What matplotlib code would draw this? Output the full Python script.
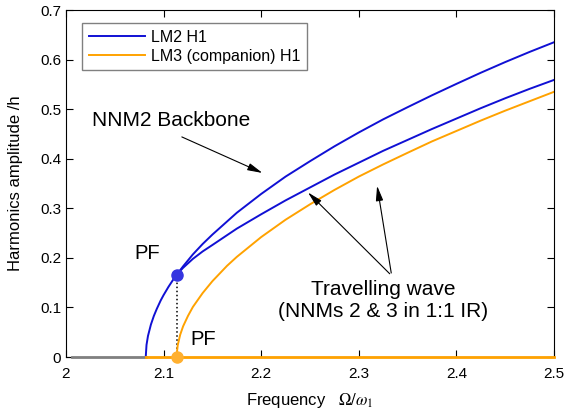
import matplotlib
matplotlib.use('Agg')
import matplotlib.pyplot as plt

plt.rcParams['font.family'] = ['Liberation Sans', 'DejaVu Sans']
plt.rcParams['mathtext.fontset'] = 'stix'

# values
x_upper = [2.0817, 2.0825, 2.084, 2.087, 2.09, 2.093, 2.097, 2.1, 2.105, 2.11, 2.1134,
           2.12, 2.13, 2.14, 2.15, 2.175, 2.2, 2.225, 2.25, 2.275, 2.3, 2.325, 2.35,
           2.375, 2.4, 2.425, 2.45, 2.475, 2.5]
y_upper = [0.0, 0.0245, 0.0425, 0.0655, 0.0828, 0.097, 0.114, 0.125, 0.1416, 0.1566, 0.166,
           0.183, 0.207, 0.228, 0.247, 0.291, 0.329, 0.364, 0.395, 0.425, 0.453, 0.4795, 0.504,
           0.528, 0.551, 0.5735, 0.595, 0.6155, 0.635]

x_lower = [2.1134, 2.12, 2.13, 2.14, 2.15, 2.175, 2.2, 2.225, 2.25, 2.275, 2.3, 2.325,
           2.35, 2.375, 2.4, 2.425, 2.45, 2.475, 2.5]
y_lower = [0.166, 0.180, 0.198, 0.213, 0.226, 0.259, 0.288, 0.316, 0.342, 0.368, 0.392, 0.416,
           0.438, 0.460, 0.481, 0.502, 0.522, 0.541, 0.559]

x_comp = [2.1134, 2.1135, 2.1145, 2.117, 2.12, 2.125, 2.13, 2.14, 2.15, 2.165, 2.175, 2.2,
          2.225, 2.25, 2.275, 2.3, 2.325, 2.35, 2.375, 2.4, 2.425, 2.45, 2.475, 2.5]
y_comp = [0.0, 0.0067, 0.024, 0.045, 0.062, 0.083, 0.101, 0.129, 0.153, 0.184, 0.202, 0.242,
          0.277, 0.308, 0.337, 0.364, 0.3886, 0.412, 0.435, 0.456, 0.477, 0.497, 0.516, 0.535]

x_grey = [2.006, 2.0817]
x_zero = [2.0817, 2.5]
pf_x = 2.1134
pf_y = 0.166

xticks = [2, 2.1, 2.2, 2.3, 2.4, 2.5]
xticklabels = ['2', '2.1', '2.2', '2.3', '2.4', '2.5']
yticks = [0, 0.1, 0.2, 0.3, 0.4, 0.5, 0.6, 0.7]
yticklabels = ['0', '0.1', '0.2', '0.3', '0.4', '0.5', '0.6', '0.7']

blue = '#1010d4'
orange = '#ffa200'

fig = plt.figure(figsize=(5.66, 4.18), dpi=100)
ax = fig.add_axes([0.1166, 0.1459, 0.8622, 0.8301])

ax.plot(x_grey, [0, 0], color='#808080', lw=2, clip_on=False, zorder=3)
ax.plot(x_zero, [0, 0], color=orange, lw=2, clip_on=False, zorder=3)
ax.plot([pf_x, pf_x], [0, pf_y], color='k', ls=':', lw=1.1)
l1, = ax.plot(x_upper, y_upper, color=blue, lw=1.4, label='LM2 H1')
ax.plot(x_lower, y_lower, color=blue, lw=1.4)
l2, = ax.plot(x_comp, y_comp, color=orange, lw=1.4, label='LM3 (companion) H1')
ax.plot(pf_x, pf_y, 'o', color='#3535e0', ms=8, mec='#3535e0', zorder=5)
ax.plot(pf_x, 0, 'o', color='#ffb030', ms=8, mec='#ffb030', clip_on=False, zorder=5)

ax.set_xlim(2, 2.5)
ax.set_ylim(0, 0.7)
ax.set_xticks(xticks)
ax.set_xticklabels(xticklabels)
ax.set_yticks(yticks)
ax.set_yticklabels(yticklabels)
ax.tick_params(direction='in', top=True, right=True, length=5, labelsize=11)
ax.tick_params(axis='x', pad=7)
ax.set_xlabel(r'Frequency   $\Omega/\omega_1$', fontsize=12)
ax.set_ylabel('Harmonics amplitude /h', fontsize=12)
ax.xaxis.set_label_coords(0.5, -0.098)
ax.yaxis.set_label_coords(-0.088, 0.5)

leg = ax.legend(handles=[l1, l2], loc='upper left', bbox_to_anchor=(0.017, 0.985),
                fontsize=11.5, fancybox=False, edgecolor='#808080', framealpha=1,
                handlelength=3.5, handletextpad=0.4, borderpad=0.4, labelspacing=0.25)
leg.get_frame().set_linewidth(1)

arrow = dict(arrowstyle='-|>,head_length=0.9,head_width=0.22', color='k', lw=0.8)
ax.annotate('', xy=(2.2039, 0.369), xytext=(2.1161, 0.4463), arrowprops=arrow)
ax.annotate('', xy=(2.2459, 0.336), xytext=(2.3337, 0.164), arrowprops=arrow)
ax.annotate('', xy=(2.3183, 0.351), xytext=(2.3337, 0.164), arrowprops=arrow)

ax.text(2.027, 0.478, 'NNM2 Backbone', fontsize=15, va='center', ha='left')
ax.text(2.325, 0.115, 'Travelling wave\n(NNMs 2 & 3 in 1:1 IR)', fontsize=15,
        ha='center', va='center', linespacing=1.2)
ax.text(2.083, 0.208, 'PF', fontsize=14.5, ha='center', va='center')
ax.text(2.1404, 0.035, 'PF', fontsize=14.5, ha='center', va='center')

fig.savefig('out.png', dpi=100)
